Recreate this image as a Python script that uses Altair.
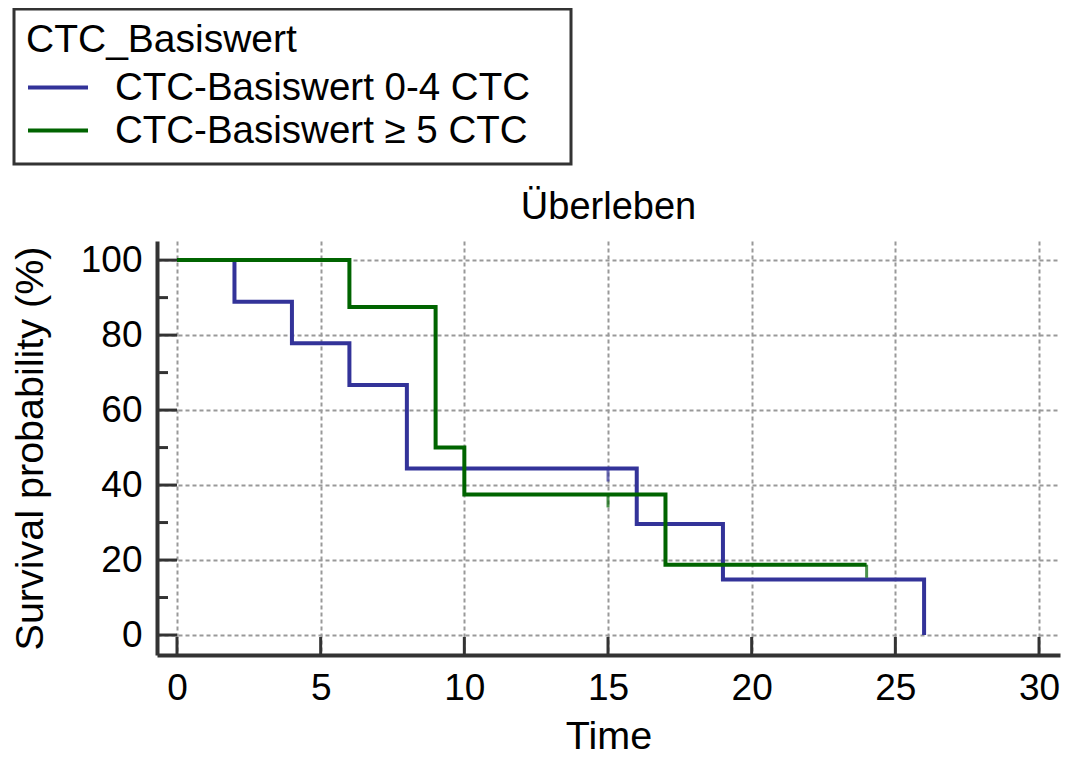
import altair as alt
import pandas as pd

# ---- data ----
groups = ["CTC-Basiswert 0-4 CTC", "CTC-Basiswert \u2265 5 CTC"]
colors = ["#333399", "#006400"]

blue_time = [0, 2, 4, 6, 8, 16, 19, 26]
blue_surv = [100, 88.9, 77.8, 66.7, 44.4, 29.6, 14.8, 0]

green_time = [0, 6, 9, 10, 17, 24]
green_surv = [100, 87.5, 50, 37.5, 18.75, 18.75]

censor_group = [groups[0], groups[1], groups[1]]
censor_time = [15, 15, 24]
censor_surv = [44.4, 37.5, 18.75]

x_ticks = [0, 5, 10, 15, 20, 25, 30]
y_ticks = [0, 20, 40, 60, 80, 100]
y_minor = [10, 30, 50, 70, 90]

chart_title = ["\u00dcberleben"]

FONT = "Liberation Sans"
W, H = 903, 414

curves = pd.DataFrame({
    "Time": blue_time + green_time,
    "Surv": blue_surv + green_surv,
    "Group": [groups[0]] * len(blue_time) + [groups[1]] * len(green_time),
    "order": list(range(len(blue_time))) + list(range(len(green_time))),
})
censors = pd.DataFrame({"Time": censor_time, "Surv": censor_surv, "Group": censor_group})
xt = pd.DataFrame({"v": x_ticks})
yt = pd.DataFrame({"v": y_ticks})
ym = pd.DataFrame({"v": y_minor})
tt = pd.DataFrame({"t": chart_title})

xscale = alt.Scale(domain=[-0.696, 30.73], nice=False, zero=False)
yscale = alt.Scale(domain=[-5.33, 105.1], nice=False, zero=False)
cscale = alt.Scale(domain=groups, range=colors)

x_axis = alt.Axis(values=x_ticks, title="Time", ticks=False, grid=True,
                  labelPadding=15, titlePadding=11, format="d")
y_axis = alt.Axis(values=y_ticks, title="Survival probability (%)", ticks=False,
                  grid=True, labelPadding=15, titlePadding=30, format="d")

lines = alt.Chart(curves).mark_line(
    interpolate="step-after", strokeWidth=4, strokeJoin="miter", strokeCap="butt"
).encode(
    x=alt.X("Time:Q", scale=xscale, axis=x_axis),
    y=alt.Y("Surv:Q", scale=yscale, axis=y_axis),
    color=alt.Color("Group:N", scale=cscale, legend=alt.Legend(
        title="CTC_Basiswert", orient="none", legendX=-143, legendY=-232,
        direction="vertical", symbolType="stroke", symbolSize=3600,
        symbolStrokeWidth=4, labelFontSize=38.5, titleFontSize=39,
        padding=12, labelOffset=25, rowPadding=0, titlePadding=6,
        clipHeight=43,
        labelLimit=2000, titleLimit=2000,
        labelExpr="datum.label + '\u2800'",
    )),
    order="order:Q",
)

cens = alt.Chart(censors).mark_tick(
    orient="vertical", size=13, thickness=3, yOffset=6.5
).encode(
    x=alt.X("Time:Q", scale=xscale),
    y=alt.Y("Surv:Q", scale=yscale),
    color=alt.Color("Group:N", scale=cscale, legend=None),
)

xtick = alt.Chart(xt).mark_rule(color="#333", strokeWidth=3).encode(
    x=alt.X("v:Q", scale=xscale),
    y=alt.value(H), y2=alt.value(H - 18),
)
ytick = alt.Chart(yt).mark_rule(color="#333", strokeWidth=3).encode(
    y=alt.Y("v:Q", scale=yscale),
    x=alt.value(0), x2=alt.value(20),
)
yminor = alt.Chart(ym).mark_rule(color="#333", strokeWidth=3).encode(
    y=alt.Y("v:Q", scale=yscale),
    x=alt.value(0), x2=alt.value(11),
)

title = alt.Chart(tt).mark_text(
    font=FONT, fontSize=38, color="black", align="center", baseline="alphabetic"
).encode(
    text="t:N", x=alt.value(W / 2), y=alt.value(-22),
)

chart = alt.layer(xtick, ytick, yminor, lines, cens, title).properties(
    width=W, height=H,
    autosize=alt.AutoSizeParams(type="none"),
    padding={"left": 149, "top": 233, "right": 1, "bottom": 99},
).configure_view(
    stroke=None
).configure_axis(
    domainColor="#333", domainWidth=4,
    gridColor="#999", gridDash=[4, 3], gridWidth=2,
    labelFont=FONT, labelFontSize=37, labelColor="black",
    titleFont=FONT, titleFontSize=39.5, titleColor="black", titleFontWeight="normal",
).configure_legend(
    labelFont=FONT, titleFont=FONT, labelColor="black", titleColor="black",
    titleFontWeight="normal", strokeColor="#333", fillColor="white",
    strokeWidth=3,
)

chart.save("out.html", embed_options={"renderer": "svg", "actions": False})
